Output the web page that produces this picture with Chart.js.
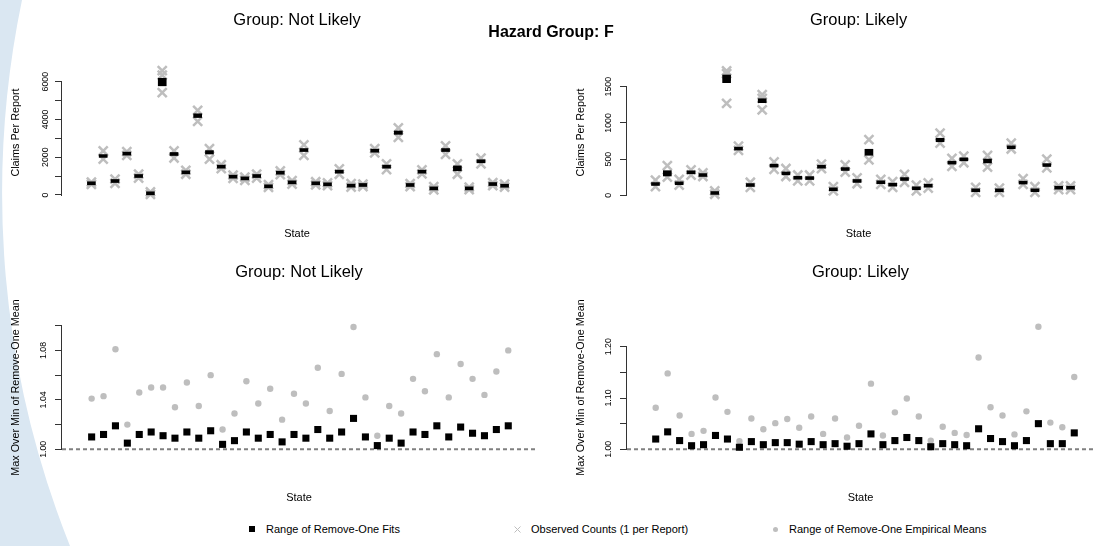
<!DOCTYPE html>
<html>
<head>
<meta charset="utf-8">
<script src="https://cdn.jsdelivr.net/npm/chart.js@4.4.1/dist/chart.umd.min.js"></script>
<style>
  html, body { margin: 0; padding: 0; background: #fff; }
  body { width: 1099px; height: 546px; position: relative; overflow: hidden;
         font-family: "Liberation Sans", Arial, sans-serif; color: #000; }
  #deco { position: absolute; left: 0; top: 0; }
  .panel { position: absolute; }
  #hazard { position: absolute; left: 451px; width: 200px; top: 22px; text-align: center;
            font-weight: bold; font-size: 16px; line-height: 20px; }
  .leg { position: absolute; top: 522px; font-size: 11px; line-height: 14px; white-space: nowrap; }
  .mk { position: absolute; }
</style>
</head>
<body>
<svg id="deco" width="1099" height="546"><path d="M0,0 L22,0 A950,950 0 0 0 70,546 L0,546 Z" fill="#dae7f2"/></svg>

<div class="panel" style="left:0;top:0;width:541px;height:250px"><canvas id="tl"></canvas></div>
<div class="panel" style="left:565px;top:0;width:534px;height:250px"><canvas id="tr"></canvas></div>
<div class="panel" style="left:0;top:250px;width:541px;height:260px"><canvas id="bl"></canvas></div>
<div class="panel" style="left:565px;top:250px;width:534px;height:260px"><canvas id="br"></canvas></div>

<div id="hazard">Hazard Group: F</div>

<div class="mk" style="left:249px;top:526px;width:6px;height:6px;background:#000"></div>
<div class="leg" style="left:266px">Range of Remove-One Fits</div>
<svg class="mk" style="left:514px;top:526px" width="7" height="7"><path d="M0.5,0.5 L6.5,6.5 M6.5,0.5 L0.5,6.5" stroke="#bebebe" stroke-width="1"/></svg>
<div class="leg" style="left:531px">Observed Counts (1 per Report)</div>
<div class="mk" style="left:773px;top:527px;width:5px;height:5px;border-radius:50%;background:#bebebe"></div>
<div class="leg" style="left:789px">Range of Remove-One Empirical Means</div>

<script>
// states (index along the x axis)
const states = [1,2,3,4,5,6,7,8,9,10,11,12,13,14,15,16,17,18,19,20,21,22,23,24,25,26,27,28,29,30,31,32,33,34,35,36];

// Group: Not Likely - claims per report
const tlFitLo = [540,1990,660,2110,925,10,5780,2090,1120,4100,2170,1420,890,800,925,380,1100,590,2300,540,485,1155,415,450,2265,1420,3210,450,1155,270,2300,1280,270,1705,500,410];
const tlFitHi = [700,2140,820,2270,1085,170,6180,2250,1280,4300,2350,1580,1050,960,1085,540,1260,750,2460,700,645,1315,575,610,2425,1580,3390,610,1315,430,2460,1540,430,1865,660,570];
const tlObsA  = [680,2330,840,2300,1100,160,6580,2330,1300,4480,2450,1600,1050,950,1100,550,1270,760,2650,700,640,1380,600,580,2450,1650,3550,600,1330,440,2600,1650,420,1950,650,580];
const tlObsB  = [560,1900,620,2100,900,30,5420,1960,1100,3900,1900,1400,880,780,900,400,1080,580,2100,540,500,1100,420,450,2230,1350,3050,440,1120,270,2150,1100,280,1650,500,420];
const tlObsC  = [null,null,null,null,null,null,6350,null,null,null,null,null,null,null,null,null,null,null,null,null,null,null,null,null,null,null,null,null,null,null,null,null,null,null,null,null];

// Group: Likely - claims per report
const trFitLo = [136,267,146,298,260,12,1556,625,122,1280,390,283,223,218,375,63,343,178,553,160,127,205,77,113,740,431,477,49,447,49,643,155,49,398,85,85];
const trFitHi = [176,340,186,338,300,52,1662,665,162,1334,430,323,263,258,415,103,383,218,636,200,167,245,117,153,788,471,517,89,501,89,683,195,89,438,125,125];
const trObsA  = [210,410,220,350,310,60,1720,680,180,1390,460,370,280,280,430,120,420,240,770,220,190,290,140,170,860,510,540,110,550,100,720,230,120,500,130,130];
const trObsB  = [120,250,140,280,260,15,1270,620,110,1180,360,260,200,200,370,60,320,160,490,150,110,180,60,100,720,400,450,40,390,40,640,150,40,380,80,80];
const trObsC  = [null,null,null,null,null,null,1680,null,null,1340,null,null,null,null,null,null,null,null,null,null,null,null,null,null,null,null,null,null,null,null,null,null,null,null,null,null];

// Max over min of remove-one mean
const blFit = [1.010,1.012,1.019,1.005,1.012,1.014,1.011,1.009,1.014,1.009,1.015,1.004,1.007,1.014,1.009,1.012,1.006,1.012,1.009,1.016,1.009,1.014,1.025,1.010,1.003,1.009,1.005,1.014,1.012,1.019,1.010,1.018,1.013,1.011,1.016,1.019];
const blEmp = [1.041,1.043,1.081,1.020,1.046,1.050,1.050,1.034,1.054,1.035,1.060,1.016,1.029,1.055,1.037,1.049,1.024,1.045,1.037,1.066,1.031,1.061,1.099,1.042,1.011,1.035,1.029,1.057,1.047,1.077,1.042,1.069,1.057,1.044,1.063,1.080];
const brFit = [1.020,1.034,1.017,1.007,1.009,1.027,1.020,1.004,1.015,1.009,1.013,1.013,1.010,1.015,1.009,1.011,1.006,1.011,1.030,1.009,1.017,1.023,1.017,1.005,1.011,1.009,1.007,1.040,1.021,1.015,1.007,1.017,1.050,1.011,1.011,1.032];
const brEmp = [1.081,1.148,1.066,1.030,1.036,1.101,1.073,1.016,1.060,1.039,1.051,1.059,1.042,1.064,1.030,1.060,1.023,1.046,1.128,1.027,1.072,1.099,1.064,1.017,1.044,1.032,1.028,1.179,1.082,1.066,1.029,1.074,1.239,1.052,1.043,1.141];

// y ticks and which of them carry a label
const tlTicks = [0,1000,2000,3000,4000,5000,6000];
const tlLabels = ['0','2000','4000','6000'];
const trTicks = [0,500,1000,1500];
const trLabels = ['0','500','1000','1500'];
const blTicks = [1.00,1.02,1.04,1.06,1.08,1.10];
const blLabels = ['1.00','1.04','1.08'];
const brTicks = [1.00,1.05,1.10,1.15,1.20];
const brLabels = ['1.00','1.10','1.20'];

const FONT = '"Liberation Sans", Arial, sans-serif';
const GREY = '#bebebe';
const AXIS = '#333';
const TICK_SIZE = 8.8;
const TICK_LEN = 7;

Chart.defaults.font.family = FONT;
Chart.defaults.color = '#000';

// measure widest tick label, so rotated labels land at the right distance
const mctx = document.createElement('canvas').getContext('2d');
function widest(labels) {
  mctx.font = TICK_SIZE + 'px ' + FONT;
  return Math.max(...labels.map(l => mctx.measureText(l).width));
}

// axis line only between first and last tick, like R
const axisSpan = {
  id: 'axisSpan',
  afterDraw(chart) {
    const ys = chart.scales.y;
    const t = ys.ticks;
    const ctx = chart.ctx;
    const x = Math.round(chart.chartArea.left) - 0.5;
    ctx.save();
    ctx.strokeStyle = AXIS;
    ctx.lineWidth = 1;
    ctx.beginPath();
    ctx.moveTo(x, Math.round(ys.getPixelForValue(t[0].value)) + 1);
    ctx.lineTo(x, Math.round(ys.getPixelForValue(t[t.length - 1].value)));
    ctx.stroke();
    ctx.restore();
  }
};

function points(vals) {
  const out = [];
  vals.forEach((v, i) => { if (v !== null) out.push({ x: states[i], y: v }); });
  return out;
}

function makePanel(id, p) {
  const pad = p.gap - TICK_LEN - widest(p.labels) / 2;
  new Chart(document.getElementById(id), {
    type: 'scatter',
    data: { datasets: p.datasets },
    plugins: [axisSpan],
    options: {
      responsive: true,
      maintainAspectRatio: false,
      animation: false,
      events: [],
      layout: { padding: 0 },
      plugins: {
        legend: { display: false },
        tooltip: { enabled: false },
        title: {
          display: true, text: p.title, fullSize: false, color: '#000',
          font: { size: 16.5, weight: 'normal' },
          padding: { top: p.titleTop, bottom: p.titleBottom }
        }
      },
      scales: {
        x: {
          type: 'linear', min: p.xMin, max: p.xMax, offset: false,
          ticks: { display: false },
          grid: { display: false },
          border: { display: false },
          title: { display: true, text: 'State', color: '#000', font: { size: 11 },
                   padding: { top: 0, bottom: p.stateBottom } },
          afterFit: s => { s.height = p.xHeight; }
        },
        y: {
          type: 'linear', min: p.yMin, max: p.yMax, bounds: 'data',
          afterBuildTicks: s => { s.ticks = p.ticks.map(v => ({ value: v })); },
          ticks: {
            minRotation: 90, maxRotation: 90, crossAlign: 'center', autoSkip: false,
            padding: pad, color: '#000', font: { size: TICK_SIZE },
            callback: v => { const s = p.fmt(v); return p.labels.includes(s) ? s : ''; }
          },
          grid: { drawOnChartArea: false, drawTicks: true, tickLength: TICK_LEN, color: AXIS, lineWidth: 1 },
          border: { display: false },
          title: { display: true, text: p.yTitle, color: '#000', font: { size: 10.8 },
                   padding: { top: 10, bottom: 0 } },
          afterFit: s => { s.width = 62; }
        }
      }
    }
  });
}

function topSets(lo, hi, a, b, c) {
  const obs = { type: 'scatter', pointStyle: 'crossRot', pointRadius: 6.4,
                pointBorderWidth: 2.5, borderColor: GREY, backgroundColor: GREY };
  return [
    { type: 'bar', data: states.map((s, i) => ({ x: s, y: [lo[i], hi[i]] })),
      backgroundColor: '#000', barThickness: 8, borderWidth: 0 },
    Object.assign({ data: points(a) }, obs),
    Object.assign({ data: points(b) }, obs),
    Object.assign({ data: points(c) }, obs)
  ];
}

function bottomSets(fit, emp, xMin, xMax) {
  return [
    { data: points(fit), pointStyle: 'rect', pointRadius: 5, pointBorderWidth: 0,
      backgroundColor: '#000', borderColor: '#000' },
    { data: points(emp), pointStyle: 'circle', pointRadius: 3.2, pointBorderWidth: 0,
      backgroundColor: GREY, borderColor: GREY },
    { data: [{ x: xMin, y: 1 }, { x: xMax, y: 1 }], showLine: true, pointRadius: 0,
      borderColor: '#808080', borderWidth: 2, borderDash: [4, 3] }
  ];
}

const leftX = { xMin: -1.49, xMax: 38.33 };
const rightX = { xMin: -1.40, xMax: 37.65 };
const topBox = { titleTop: 10.1, titleBottom: 35.1, xHeight: 50, stateBottom: 9.4 };
const botBox = { titleTop: 12.1, titleBottom: 38.1, xHeight: 55, stateBottom: 5.4 };
const intFmt = v => String(v);
const decFmt = v => v.toFixed(2);

makePanel('tl', Object.assign({
  title: 'Group: Not Likely', yTitle: 'Claims Per Report',
  yMin: -265, yMax: 6882, ticks: tlTicks, labels: tlLabels, fmt: intFmt, gap: 16.5,
  datasets: topSets(tlFitLo, tlFitHi, tlObsA, tlObsB, tlObsC)
}, leftX, topBox));

makePanel('tr', Object.assign({
  title: 'Group: Likely', yTitle: 'Claims Per Report',
  yMin: -64.9, yMax: 1800, ticks: trTicks, labels: trLabels, fmt: intFmt, gap: 18.7,
  datasets: topSets(trFitLo, trFitHi, trObsA, trObsB, trObsC)
}, rightX, topBox));

makePanel('bl', Object.assign({
  title: 'Group: Not Likely', yTitle: 'Max Over Min of Remove-One Mean',
  yMin: 0.99539, yMax: 1.10461, ticks: blTicks, labels: blLabels, fmt: decFmt, gap: 18.7,
  datasets: bottomSets(blFit, blEmp, leftX.xMin, leftX.xMax)
}, leftX, botBox));

makePanel('br', Object.assign({
  title: 'Group: Likely', yTitle: 'Max Over Min of Remove-One Mean',
  yMin: 0.98889, yMax: 1.25205, ticks: brTicks, labels: brLabels, fmt: decFmt, gap: 18.7,
  datasets: bottomSets(brFit, brEmp, rightX.xMin, rightX.xMax)
}, rightX, botBox));
</script>
</body>
</html>
